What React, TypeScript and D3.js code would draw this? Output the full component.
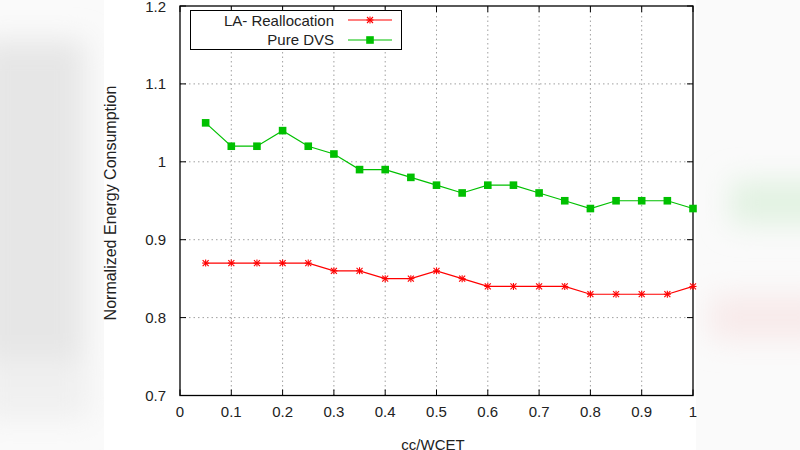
import React from "react";
import * as d3 from "d3";

const xs = [0.05, 0.1, 0.15, 0.2, 0.25, 0.3, 0.35, 0.4, 0.45, 0.5, 0.55, 0.6, 0.65, 0.7, 0.75, 0.8, 0.85, 0.9, 0.95, 1.0];
const laRealloc = [0.87, 0.87, 0.87, 0.87, 0.87, 0.86, 0.86, 0.85, 0.85, 0.86, 0.85, 0.84, 0.84, 0.84, 0.84, 0.83, 0.83, 0.83, 0.83, 0.84];
const pureDVS = [1.05, 1.02, 1.02, 1.04, 1.02, 1.01, 0.99, 0.99, 0.98, 0.97, 0.96, 0.97, 0.97, 0.96, 0.95, 0.94, 0.95, 0.95, 0.95, 0.94];
const xTicks = [0, 0.1, 0.2, 0.3, 0.4, 0.5, 0.6, 0.7, 0.8, 0.9, 1];
const yTicks = [0.7, 0.8, 0.9, 1.0, 1.1, 1.2];
const xTickLabels = ["0", "0.1", "0.2", "0.3", "0.4", "0.5", "0.6", "0.7", "0.8", "0.9", "1"];
const yTickLabels = ["0.7", "0.8", "0.9", "1", "1.1", "1.2"];

const W = 800, H = 450;
const L = 180, R = 693, T = 6, B = 395.5;
const font = "'Liberation Sans', Arial, sans-serif";
const RED = "#ff0000";
const GREEN = "#00c000";

export default function App() {
  const x = d3.scaleLinear().domain([0, 1]).range([L, R]);
  const y = d3.scaleLinear().domain([0.7, 1.2]).range([B, T]);
  const line = d3.line<number>().x((_, i) => x(xs[i])).y((d) => y(d));

  const star = (cx: number, cy: number, k: string) => (
    <g key={k} stroke={RED} strokeWidth={1.1}>
      <line x1={cx - 3.5} y1={cy} x2={cx + 3.5} y2={cy} />
      <line x1={cx} y1={cy - 3.5} x2={cx} y2={cy + 3.5} />
      <line x1={cx - 3} y1={cy - 3} x2={cx + 3} y2={cy + 3} />
      <line x1={cx - 3} y1={cy + 3} x2={cx + 3} y2={cy - 3} />
    </g>
  );
  const sq = (cx: number, cy: number, k: string) => (
    <rect key={k} x={cx - 3.8} y={cy - 3.8} width={7.6} height={7.6} fill={GREEN} />
  );

  return (
    <svg width={W} height={H} style={{ position: "absolute", left: 0, top: 0 }}>
      <defs>
        <filter id="blur" x="-50%" y="-50%" width="200%" height="200%">
          <feGaussianBlur stdDeviation="14" />
        </filter>
      </defs>
      <rect x={0} y={0} width={W} height={H} fill="#fafafa" />
      <g filter="url(#blur)">
        <rect x={-20} y={40} width={105} height={320} fill="#e6e6e6" />
        <rect x={-20} y={360} width={110} height={60} fill="#f0f0f0" />
        <rect x={730} y={180} width={110} height={45} fill="#e2f2e2" />
        <rect x={710} y={295} width={120} height={45} fill="#f8eaea" />
      </g>
      <rect x={104} y={0} width={592} height={H} fill="#ffffff" />

      {/* grid */}
      <g stroke="#a0a0a0" strokeWidth={1} strokeDasharray="1.5,3">
        {xTicks.slice(1, -1).map((t) => (
          <line key={"gx" + t} x1={x(t)} x2={x(t)} y1={B} y2={T} />
        ))}
        {yTicks.slice(1, -1).map((t) => (
          <line key={"gy" + t} x1={L} x2={R} y1={y(t)} y2={y(t)} />
        ))}
      </g>

      {/* ticks */}
      <g stroke="#000" strokeWidth={1}>
        {xTicks.map((t) => (
          <g key={"tx" + t}>
            <line x1={x(t)} x2={x(t)} y1={B} y2={B - 6} />
            <line x1={x(t)} x2={x(t)} y1={T} y2={T + 6} />
          </g>
        ))}
        {yTicks.map((t) => (
          <g key={"ty" + t}>
            <line x1={L} x2={L + 6} y1={y(t)} y2={y(t)} />
            <line x1={R} x2={R - 6} y1={y(t)} y2={y(t)} />
          </g>
        ))}
      </g>
      <rect x={L} y={T} width={R - L} height={B - T} fill="none" stroke="#000" strokeWidth={1.3} />

      {/* tick labels */}
      <g fontFamily={font} fontSize={15} fill="#222">
        {xTicks.map((t, i) => (
          <text key={"lx" + t} x={x(t)} y={417} textAnchor="middle">{xTickLabels[i]}</text>
        ))}
        {yTicks.map((t, i) => (
          <text key={"ly" + t} x={166} y={y(t) + 5.5} textAnchor="end">{yTickLabels[i]}</text>
        ))}
      </g>
      <text x={433} y={450} textAnchor="middle" fontFamily={font} fontSize={15} fill="#222">cc/WCET</text>
      <text transform={`translate(116,203) rotate(-90)`} textAnchor="middle" fontFamily={font} fontSize={16} fill="#222">
        Normalized Energy Consumption
      </text>

      {/* series */}
      <path d={line(laRealloc) || ""} fill="none" stroke={RED} strokeWidth={1.2} />
      {laRealloc.map((v, i) => star(x(xs[i]), y(v), "s" + i))}
      <path d={line(pureDVS) || ""} fill="none" stroke={GREEN} strokeWidth={1.2} />
      {pureDVS.map((v, i) => sq(x(xs[i]), y(v), "q" + i))}

      {/* legend */}
      <rect x={190.5} y={10.5} width={211} height={39} fill="#fff" stroke="#000" strokeWidth={1} />
      <g fontFamily={font} fontSize={15} fill="#222">
        <text x={334} y={25.5} textAnchor="end">LA- Reallocation</text>
        <text x={334} y={45} textAnchor="end">Pure DVS</text>
      </g>
      <line x1={348} x2={392} y1={20} y2={20} stroke={RED} strokeWidth={1.2} />
      {star(370, 20, "ls")}
      <line x1={348} x2={392} y1={40} y2={40} stroke={GREEN} strokeWidth={1.2} />
      {sq(370, 40, "lq")}
    </svg>
  );
}
